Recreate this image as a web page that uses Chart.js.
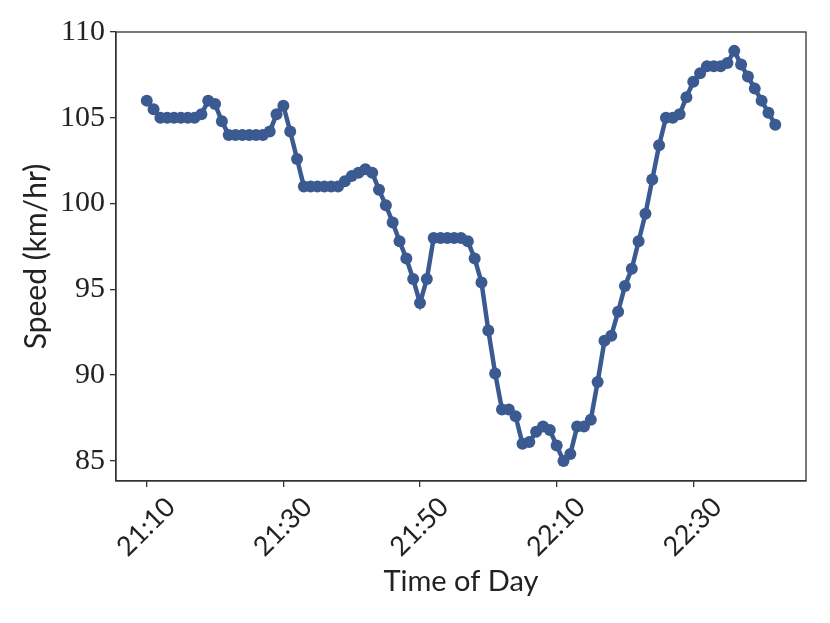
<!DOCTYPE html>
<html>
<head>
<meta charset="utf-8">
<script src="https://cdn.jsdelivr.net/npm/chart.js@4"></script>
<style>
  html, body { margin: 0; padding: 0; background: #fff; }
  #wrap { width: 830px; height: 623px; }
</style>
</head>
<body>
<div id="wrap"><canvas id="speedChart" width="830" height="623"></canvas></div>
<script>
// time of each reading (one per minute)
let times = [
  '21:10','21:11','21:12','21:13','21:14','21:15','21:16','21:17','21:18','21:19',
  '21:20','21:21','21:22','21:23','21:24','21:25','21:26','21:27','21:28','21:29',
  '21:30','21:31','21:32','21:33','21:34','21:35','21:36','21:37','21:38','21:39',
  '21:40','21:41','21:42','21:43','21:44','21:45','21:46','21:47','21:48','21:49',
  '21:50','21:51','21:52','21:53','21:54','21:55','21:56','21:57','21:58','21:59',
  '22:00','22:01','22:02','22:03','22:04','22:05','22:06','22:07','22:08','22:09',
  '22:10','22:11','22:12','22:13','22:14','22:15','22:16','22:17','22:18','22:19',
  '22:20','22:21','22:22','22:23','22:24','22:25','22:26','22:27','22:28','22:29',
  '22:30','22:31','22:32','22:33','22:34','22:35','22:36','22:37','22:38','22:39',
  '22:40','22:41','22:42'
]

let speeds = [
  106.0, 105.5, 105.0, 105.0, 105.0, 105.0, 105.0, 105.0, 105.2, 106.0,
  105.8, 104.8, 104.0, 104.0, 104.0, 104.0, 104.0, 104.0, 104.2, 105.2,
  105.7, 104.2, 102.6, 101.0, 101.0, 101.0, 101.0, 101.0, 101.0, 101.3,
  101.6, 101.8, 102.0, 101.8, 100.8, 99.9, 98.9, 97.8, 96.8, 95.6,
  94.2, 95.6, 98.0, 98.0, 98.0, 98.0, 98.0, 97.8, 96.8, 95.4,
  92.6, 90.1, 88.0, 88.0, 87.6, 86.0, 86.1, 86.7, 87.0, 86.8,
  85.9, 85.0, 85.4, 87.0, 87.0, 87.4, 89.6, 92.0, 92.3, 93.7,
  95.2, 96.2, 97.8, 99.4, 101.4, 103.4, 105.0, 105.0, 105.2, 106.2,
  107.1, 107.6, 108.0, 108.0, 108.0, 108.2, 108.9, 108.1, 107.4, 106.7,
  106.0, 105.3, 104.6
]

let xTickLabels = ['21:10', '21:30', '21:50', '22:10', '22:30']
let yTickLabels = [85, 90, 95, 100, 105, 110]

function toMinutes(t) {
  let p = t.split(':')
  return Number(p[0]) * 60 + Number(p[1])
}

function fmt(m) {
  let h = Math.floor(m / 60)
  let mm = m % 60
  return `${h}:${mm < 10 ? '0' + mm : mm}`
}

let points = times.map((t, i) => ({ x: toMinutes(t), y: speeds[i] }))
let xTicks = xTickLabels.map(toMinutes)

const axisColor = '#333333'

// box round the plot area
const frame = {
  id: 'frame',
  afterDraw(chart) {
    const { ctx, chartArea: a } = chart
    ctx.save()
    ctx.strokeStyle = axisColor
    ctx.lineWidth = 1.3
    ctx.strokeRect(a.left, a.top, a.right - a.left, a.bottom - a.top)
    ctx.restore()
  }
}

const ctx = document.getElementById('speedChart').getContext('2d')
let chart = new Chart(ctx, {
  type: 'line',
  data: {
    datasets: [{
      data: points,
      borderColor: 'rgb(59, 90, 145)',
      backgroundColor: 'rgb(59, 90, 145)',
      borderWidth: 4.5,
      pointRadius: 6,
      pointHoverRadius: 6,
      pointBorderWidth: 0,
      tension: 0,
      fill: false,
    }]
  },
  options: {
    responsive: false,
    animation: false,
    events: [],
    layout: { padding: { top: 32, right: 24, left: 18, bottom: 0 } },
    plugins: {
      legend: { display: false },
      tooltip: { enabled: false },
    },
    scales: {
      x: {
        type: 'linear',
        min: toMinutes('21:10') - 4.5,
        max: toMinutes('22:30') + 16.5,
        afterBuildTicks: (s) => { s.ticks = xTicks.map(v => ({ value: v })) },
        afterFit: (s) => { s.height = 142 },
        border: { display: true, color: axisColor, width: 1.3 },
        grid: { display: true, drawOnChartArea: false, drawTicks: true, tickLength: 6, color: axisColor, lineWidth: 1.3 },
        ticks: {
          minRotation: 45,
          maxRotation: 45,
          color: '#222',
          padding: 4,
          labelOffset: 24,
          font: { family: 'Lato', size: 27 },
          callback: (v) => fmt(v),
        },
        title: {
          display: true,
          text: 'Time of Day',
          color: '#222',
          font: { family: 'Lato', size: 29 },
          padding: { top: 0, bottom: 24 },
        },
      },
      y: {
        min: 83.83,
        max: 110,
        afterBuildTicks: (s) => { s.ticks = yTickLabels.map(v => ({ value: v })) },
        afterFit: (s) => { s.width = 98 },
        border: { display: true, color: axisColor, width: 1.3 },
        grid: { display: true, drawOnChartArea: false, drawTicks: true, tickLength: 6, color: axisColor, lineWidth: 1.3 },
        ticks: {
          color: '#222',
          padding: 5,
          font: { family: 'Liberation Serif', size: 30 },
        },
        title: {
          display: true,
          text: 'Speed (km/hr)',
          color: '#222',
          font: { family: 'Lato', size: 30 },
          padding: { top: 0, bottom: 4 },
        },
      },
    },
  },
  plugins: [frame],
})
</script>
</body>
</html>
